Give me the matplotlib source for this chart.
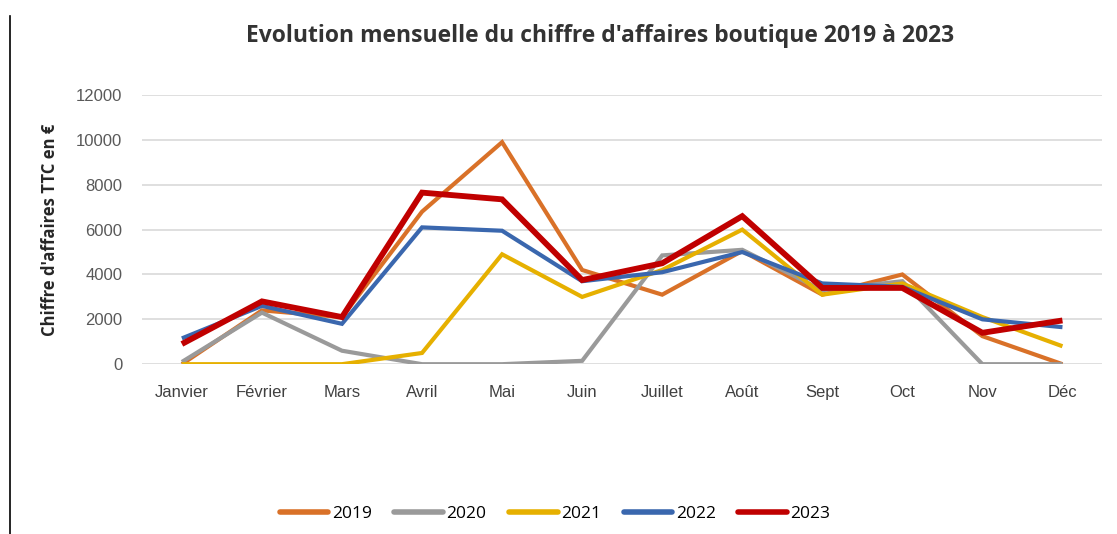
import matplotlib.pyplot as plt
from matplotlib.lines import Line2D

### Data ###

mois = ['Janvier', 'Février', 'Mars', 'Avril', 'Mai', 'Juin', 'Juillet',
        'Août', 'Sept', 'Oct', 'Nov', 'Déc']

ca_2019 = [0, 2400, 2100, 6800, 9900, 4200, 3100, 5050, 3100, 4000, 1250, 0]
ca_2020 = [100, 2300, 600, 0, 0, 150, 4850, 5100, 3300, 3700, 0, 0]
ca_2021 = [0, 0, 0, 500, 4900, 3000, 4200, 6000, 3100, 3600, 2100, 800]
ca_2022 = [1150, 2600, 1800, 6100, 5950, 3700, 4100, 5000, 3600, 3450, 2000, 1650]
ca_2023 = [900, 2800, 2100, 7650, 7350, 3750, 4500, 6600, 3400, 3400, 1400, 1950]

annees = ['2019', '2020', '2021', '2022', '2023']
series = [ca_2019, ca_2020, ca_2021, ca_2022, ca_2023]
couleurs = ['#D97128', '#9A9A9A', '#E6B000', '#3A67AE', '#C00000']
epaisseurs = [3.0, 3.0, 3.0, 3.0, 4.2]

yticks = [0, 2000, 4000, 6000, 8000, 10000, 12000]

### Figure ###

fig = plt.figure(figsize=(11.17, 5.34), dpi=100)
ax = fig.add_axes([0.127, 0.318, 0.86, 0.504])

x = range(len(mois))
for vals, nom, col, lw in zip(series, annees, couleurs, epaisseurs):
    ax.plot(x, vals, color=col, linewidth=lw, label=nom,
            solid_joinstyle='miter', solid_capstyle='butt')

ax.set_xlim(-0.5, len(mois) - 0.5)
ax.set_ylim(0, 12000)
ax.set_yticks(yticks)
ax.set_yticklabels([str(v) for v in yticks], fontsize=12, color='#595959',
                   family='Liberation Sans')
ax.set_xticks(list(x))
ax.set_xticklabels(mois, fontsize=12, color='#404040', family='Liberation Sans')
ax.tick_params(length=0, axis='y', pad=14)
ax.tick_params(length=0, axis='x', pad=15)
ax.grid(axis='y', color='#D9D9D9', linewidth=1.2)
ax.set_axisbelow(True)
for s in ax.spines.values():
    s.set_visible(False)

ax.set_ylabel("Chiffre d'affaires TTC en €", fontsize=12, fontweight='bold',
              color='#262626', family='Open Sans', labelpad=12)

fig.text(0.537, 0.932, "Evolution mensuelle du chiffre d'affaires boutique 2019 à 2023",
         ha='center', va='center', fontsize=16.5, fontweight='bold',
         color='#333333', family='Open Sans')

# trait vertical à gauche
fig.add_artist(Line2D([0.009, 0.009], [0, 0.97], color='black', linewidth=1.2))

handles = [Line2D([], [], color=c, linewidth=4, solid_capstyle='round') for c in couleurs]
fig.legend(handles, annees, loc='center', bbox_to_anchor=(0.497, 0.037), ncol=5,
           frameon=False, handlelength=2.8, handletextpad=0.2, columnspacing=1.3,
           prop={'family': 'Open Sans', 'size': 12.5})

fig.savefig('out.png', dpi=100, facecolor='white')
